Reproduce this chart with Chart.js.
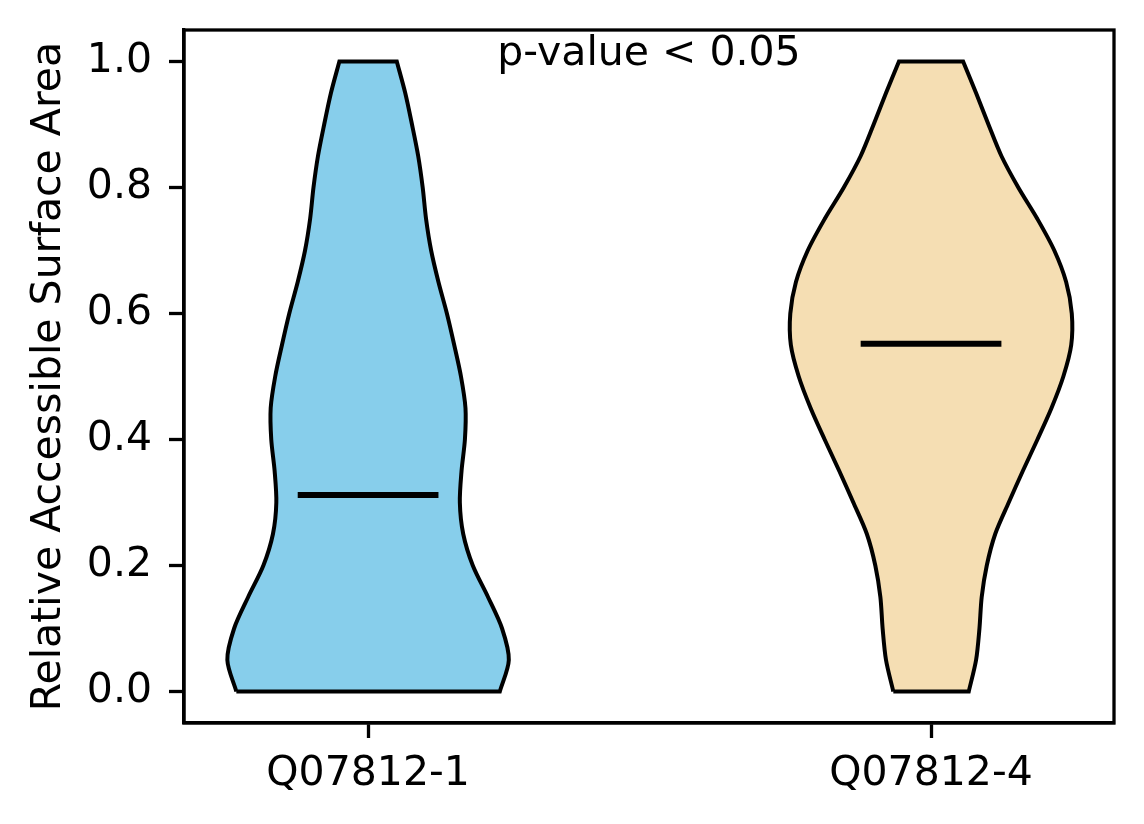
<!DOCTYPE html>
<html lang="en">
<head>
    <meta charset="UTF-8">
    <title>RSA Violin Plot</title>
    <script src="https://cdn.jsdelivr.net/npm/chart.js"></script>
    <style>
        html, body { margin: 0; padding: 0; background: #fff; }
        #wrap { width: 1144px; height: 824px; }
    </style>
</head>
<body>
    <div id="wrap"><canvas id="violinChart" width="1144" height="824"></canvas></div>
    <script>
        // categories and positions (matplotlib style: 1, 2)
        const categories = ['Q07812-1', 'Q07812-4'];
        const positions = [1, 2];
        const colors = ['#87CEEB', '#F5DEB3'];

        // density outline: y levels and half widths (x units)
        const yLevels = [0.00, 0.05, 0.10, 0.15, 0.20, 0.25, 0.30, 0.35, 0.40, 0.45, 0.50,
                         0.55, 0.60, 0.65, 0.70, 0.75, 0.80, 0.85, 0.90, 0.95, 1.00];
        const halfWidthQ1 = [0.234, 0.250, 0.238, 0.213, 0.186, 0.169, 0.163, 0.166, 0.172, 0.173, 0.165,
                             0.153, 0.140, 0.125, 0.112, 0.103, 0.097, 0.089, 0.078, 0.066, 0.051];
        const halfWidthQ4 = [0.067, 0.080, 0.086, 0.090, 0.099, 0.114, 0.138, 0.163, 0.189, 0.214, 0.235,
                             0.249, 0.250, 0.240, 0.219, 0.189, 0.155, 0.125, 0.102, 0.080, 0.057];
        const medians = [0.312, 0.552];

        const yTicks = [0.0, 0.2, 0.4, 0.6, 0.8, 1.0];
        const annotation = 'p-value < 0.05';

        const violinWidth = 0.5;
        const font = "'DejaVu Sans', sans-serif";

        // closed outline: up the left side, down the right side; corners doubled so they stay sharp
        function outline(center, hw) {
            const pts = [];
            const n = yLevels.length;
            pts.push({ x: center - hw[0], y: yLevels[0] });
            for (let i = 0; i < n; i++) pts.push({ x: center - hw[i], y: yLevels[i] });
            pts.push({ x: center - hw[n - 1], y: yLevels[n - 1] });
            pts.push({ x: center + hw[n - 1], y: yLevels[n - 1] });
            for (let i = n - 1; i >= 0; i--) pts.push({ x: center + hw[i], y: yLevels[i] });
            pts.push({ x: center + hw[0], y: yLevels[0] });
            pts.push({ x: center - hw[0], y: yLevels[0] });
            pts.push({ x: center - hw[0], y: yLevels[0] });
            return pts;
        }

        const widths = [halfWidthQ1, halfWidthQ4];
        const datasets = [];
        positions.forEach((p, i) => {
            datasets.push({
                label: categories[i],
                data: outline(p, widths[i]),
                borderColor: '#000',
                borderWidth: 4,
                backgroundColor: colors[i],
                fill: 'shape',
                tension: 0.3,
                pointRadius: 0,
                order: 2
            });
            datasets.push({
                label: categories[i] + ' median',
                data: [{ x: p - violinWidth / 4, y: medians[i] }, { x: p + violinWidth / 4, y: medians[i] }],
                borderColor: '#000',
                borderWidth: 6,
                fill: false,
                pointRadius: 0,
                order: 1
            });
        });

        const frameAndText = {
            id: 'frameAndText',
            afterDraw(chart) {
                const { ctx, chartArea } = chart;
                ctx.save();
                ctx.strokeStyle = '#000';
                ctx.lineWidth = 3.3;
                ctx.strokeRect(chartArea.left, chartArea.top, chartArea.right - chartArea.left, chartArea.bottom - chartArea.top);
                ctx.fillStyle = '#000';
                ctx.font = '41px ' + font;
                ctx.textAlign = 'center';
                ctx.textBaseline = 'alphabetic';
                const h = chartArea.bottom - chartArea.top;
                ctx.fillText(annotation, (chartArea.left + chartArea.right) / 2, chartArea.top + 0.05 * h);
                ctx.restore();
            }
        };

        new Chart(document.getElementById('violinChart'), {
            type: 'line',
            data: { datasets },
            plugins: [frameAndText],
            options: {
                responsive: false,
                animation: false,
                devicePixelRatio: 1,
                layout: { padding: { top: 30, right: 30, left: 0, bottom: 0 } },
                plugins: {
                    legend: { display: false },
                    tooltip: { enabled: false }
                },
                scales: {
                    x: {
                        type: 'linear',
                        min: 0.673,
                        max: 2.325,
                        afterFit(scale) {
                            scale.height = 101;
                            scale.paddingLeft = 0;
                            scale.paddingRight = 0;
                            scale.paddingBottom = 0;
                        },
                        afterBuildTicks(scale) { scale.ticks = positions.map(v => ({ value: v })); },
                        ticks: {
                            callback: (v) => categories[positions.indexOf(v)],
                            color: '#000',
                            font: { family: font, size: 41 },
                            padding: 12,
                            maxRotation: 0,
                            autoSkip: false
                        },
                        grid: { drawOnChartArea: false, drawTicks: true, tickLength: 15, tickWidth: 3.3, tickColor: '#000' },
                        border: { display: true, color: '#000', width: 3.3 }
                    },
                    y: {
                        type: 'linear',
                        min: -0.05,
                        max: 1.05,
                        afterFit(scale) {
                            scale.width = 184;
                            scale.paddingTop = 0;
                            scale.paddingBottom = 0;
                        },
                        afterBuildTicks(scale) { scale.ticks = yTicks.map(v => ({ value: v })); },
                        ticks: {
                            callback: (v) => v.toFixed(1),
                            color: '#000',
                            font: { family: font, size: 41 },
                            padding: 17
                        },
                        grid: { drawOnChartArea: false, drawTicks: true, tickLength: 15, tickWidth: 3.3, tickColor: '#000' },
                        border: { display: true, color: '#000', width: 3.3 },
                        title: {
                            display: true,
                            text: 'Relative Accessible Surface Area',
                            color: '#000',
                            font: { family: font, size: 41 },
                            padding: { top: 25, bottom: 0 }
                        }
                    }
                }
            }
        });
    </script>
</body>
</html>
